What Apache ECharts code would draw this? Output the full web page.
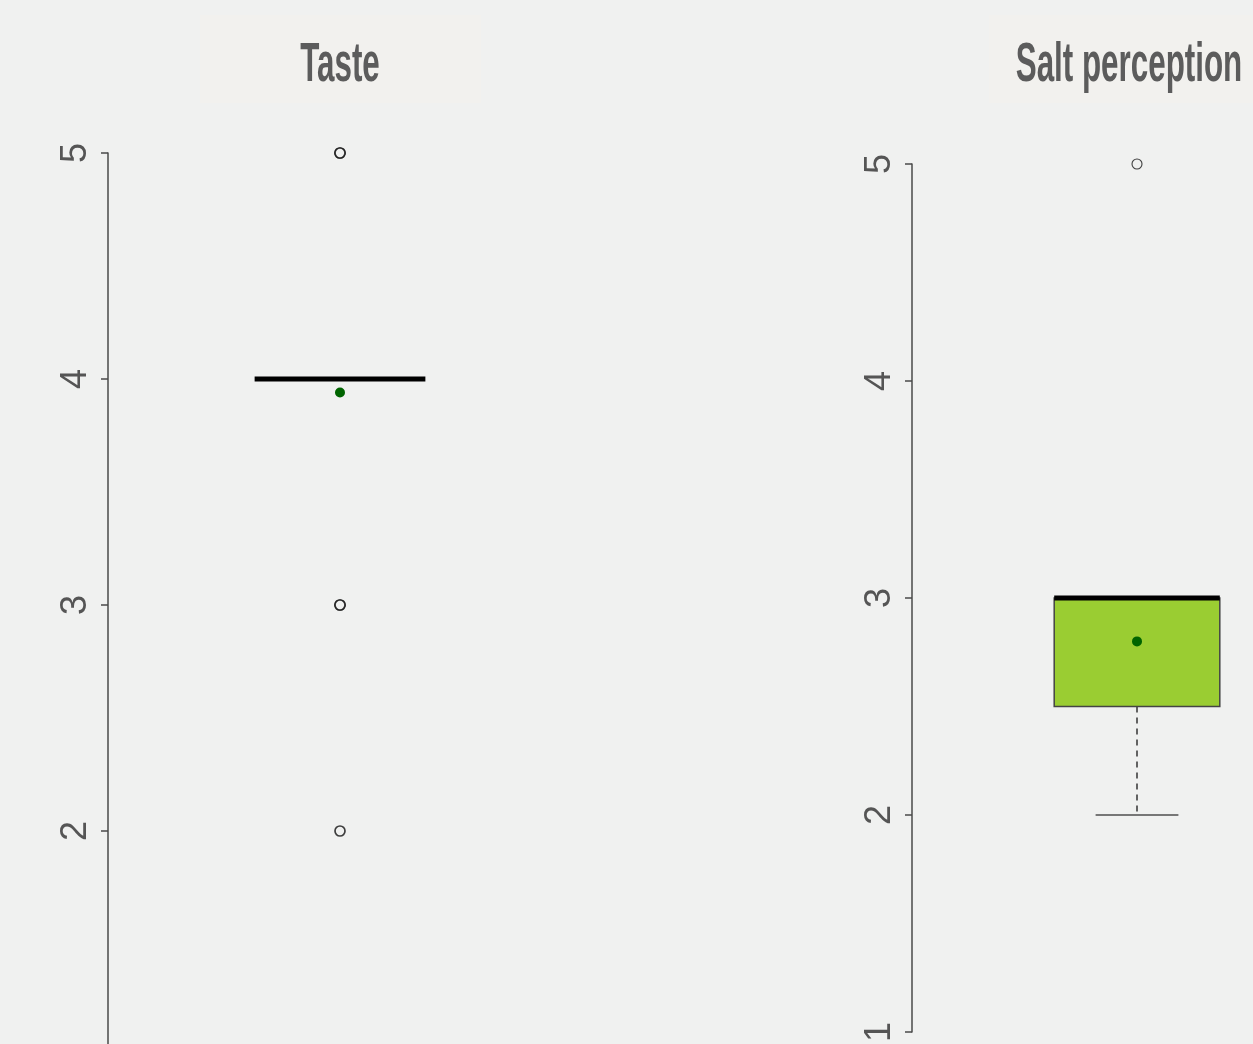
<!DOCTYPE html>
<html>
<head>
<meta charset="utf-8">
<script src="https://cdn.jsdelivr.net/npm/echarts@6/dist/echarts.min.js"></script>
<style>
  html, body { margin: 0; padding: 0; background: #f0f1f0; }
  #chart { width: 1253px; height: 1044px; }
</style>
</head>
<body>
<div id="chart"></div>
<script>
const categories = ['Taste', 'Salt perception']
// [lower whisker, Q1, median, Q3, upper whisker]
const tasteStats = [4, 4, 4, 4, 4]
const saltStats = [2, 2.5, 3, 3, 3]
const means = [3.94, 2.8]
const tasteOutliers = [5, 5, 3, 3, 2]
const saltOutliers = [5]
const yTicks = [1, 2, 3, 4, 5]

const bg = '#f0f1f0'
const boxFill = '#9acd32'
const axisColor = '#4a4a4a'
const labelColor = '#555'

function renderBox (params, api) {
  const x = api.value(0)
  const lo = api.coord([x, api.value(1)])
  const q1 = api.coord([x, api.value(2)])
  const med = api.coord([x, api.value(3)])
  const q3 = api.coord([x, api.value(4)])
  const hi = api.coord([x, api.value(5)])
  const band = api.size([1, 0])[0]
  const half = band * 0.184
  const cx = med[0]
  const children = []
  // lower whisker
  if (lo[1] - q1[1] > 0.5) {
    children.push({ type: 'line', shape: { x1: cx, y1: q1[1], x2: cx, y2: lo[1] }, style: { stroke: '#333', lineWidth: 1.5, lineDash: [6, 5] } })
    children.push({ type: 'line', shape: { x1: cx - half / 2, y1: lo[1], x2: cx + half / 2, y2: lo[1] }, style: { stroke: '#777', lineWidth: 2 } })
  }
  // upper whisker
  if (q3[1] - hi[1] > 0.5) {
    children.push({ type: 'line', shape: { x1: cx, y1: q3[1], x2: cx, y2: hi[1] }, style: { stroke: '#333', lineWidth: 1.5, lineDash: [6, 5] } })
    children.push({ type: 'line', shape: { x1: cx - half / 2, y1: hi[1], x2: cx + half / 2, y2: hi[1] }, style: { stroke: '#777', lineWidth: 2 } })
  }
  if (q1[1] - q3[1] > 0.5) {
    children.push({ type: 'rect', shape: { x: cx - half, y: q3[1], width: half * 2, height: q1[1] - q3[1] }, style: { fill: boxFill, stroke: '#444', lineWidth: 1.5 } })
  }
  children.push({ type: 'line', shape: { x1: cx - half, y1: med[1], x2: cx + half, y2: med[1] }, style: { stroke: '#000', lineWidth: 5 } })
  return { type: 'group', children }
}

function yAxisFor (gridIndex) {
  return {
    type: 'value',
    gridIndex,
    min: yTicks[0],
    max: yTicks[yTicks.length - 1],
    interval: 1,
    axisLine: { show: true, lineStyle: { color: axisColor, width: 1.5 } },
    axisTick: { show: true, length: 7, lineStyle: { color: axisColor, width: 1.5 } },
    axisLabel: { rotate: 90, margin: 14, fontSize: 36, color: labelColor, fontFamily: 'Liberation Sans' },
    splitLine: { show: false }
  }
}

function xAxisFor (gridIndex, name) {
  return {
    type: 'category',
    gridIndex,
    data: [name],
    show: false
  }
}

function titleBox (cx, text) {
  return {
    type: 'group',
    children: [
      { type: 'rect', shape: { x: cx - 140, y: 15, width: 281, height: 88 }, style: { fill: '#f2f1ee' } },
      {
        type: 'text',
        x: cx,
        y: 66,
        scaleX: 0.57,
        style: {
          text,
          fill: '#5c5c5c',
          font: 'bold 55px "Liberation Sans", sans-serif',
          align: 'center',
          verticalAlign: 'middle'
        }
      }
    ]
  }
}

function outlierSeries (axisIndex, values, width) {
  return {
    type: 'scatter',
    xAxisIndex: axisIndex,
    yAxisIndex: axisIndex,
    symbol: 'circle',
    symbolSize: 10,
    itemStyle: { color: bg, borderColor: '#111', borderWidth: width },
    data: values.map(v => [0, v]),
    z: 3
  }
}

function meanSeries (axisIndex, value) {
  return {
    type: 'scatter',
    xAxisIndex: axisIndex,
    yAxisIndex: axisIndex,
    symbol: 'circle',
    symbolSize: 10,
    itemStyle: { color: '#006400', opacity: 1 },
    data: [[0, value]],
    z: 4
  }
}

const chart = echarts.init(document.getElementById('chart'), null, { renderer: 'canvas' })
chart.setOption({
  backgroundColor: bg,
  animation: false,
  grid: [
    { left: 108, top: 153, width: 464, height: 904, outerBoundsMode: 'none', containLabel: false },
    { left: 912, top: 164, width: 450, height: 868, outerBoundsMode: 'none', containLabel: false }
  ],
  xAxis: [xAxisFor(0, categories[0]), xAxisFor(1, categories[1])],
  yAxis: [yAxisFor(0), yAxisFor(1)],
  graphic: [titleBox(340, categories[0]), titleBox(1129, categories[1])],
  series: [
    {
      type: 'custom',
      xAxisIndex: 0,
      yAxisIndex: 0,
      renderItem: renderBox,
      data: [[0, ...tasteStats]],
      z: 2
    },
    {
      type: 'custom',
      xAxisIndex: 1,
      yAxisIndex: 1,
      renderItem: renderBox,
      data: [[0, ...saltStats]],
      z: 2
    },
    outlierSeries(0, tasteOutliers, 1.7),
    outlierSeries(1, saltOutliers, 1.1),
    meanSeries(0, means[0]),
    meanSeries(1, means[1])
  ]
})
</script>
</body>
</html>
